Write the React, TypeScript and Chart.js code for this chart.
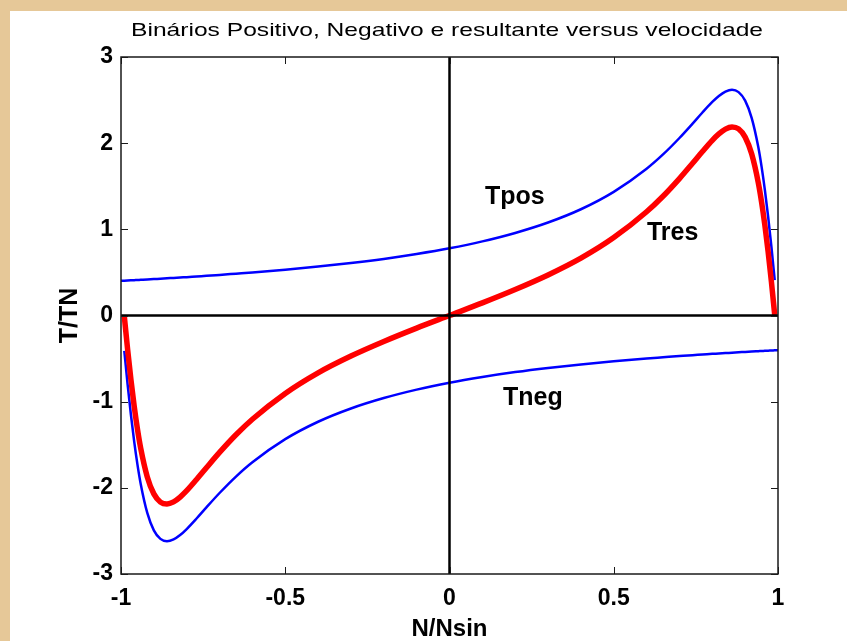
import { useEffect, useRef } from "react";
import { Chart, registerables } from "chart.js";

Chart.register(...registerables);

// ---- data ----
const TITLE = "Binários Positivo, Negativo e resultante versus velocidade";
const X_TITLE = "N/Nsin";
const Y_TITLE = "T/TN";

const N_VALUES = [
  -1, -0.99, -0.98, -0.97, -0.96, -0.95, -0.94, -0.92, -0.9, -0.88, -0.86, -0.84, -0.82, -0.8,
  -0.77, -0.74, -0.7, -0.65, -0.6, -0.5, -0.4, -0.3, -0.2, -0.1, 0, 0.1, 0.2, 0.3, 0.4, 0.5,
  0.6, 0.65, 0.7, 0.74, 0.77, 0.8, 0.82, 0.84, 0.86, 0.88, 0.9, 0.92, 0.94, 0.95, 0.96, 0.97,
  0.98, 0.99, 1,
];

const T_POS = [
  0.402, 0.404, 0.406, 0.408, 0.41, 0.412, 0.414, 0.418, 0.423, 0.427, 0.432, 0.436, 0.441, 0.445,
  0.453, 0.46, 0.471, 0.485, 0.499, 0.531, 0.568, 0.609, 0.657, 0.714, 0.78, 0.86, 0.958, 1.079,
  1.233, 1.435, 1.703, 1.869, 2.06, 2.227, 2.356, 2.478, 2.548, 2.599, 2.62, 2.592, 2.493, 2.291,
  1.955, 1.728, 1.458, 1.146, 0.795, 0.41, null,
];

const T_NEG = [
  null, -0.41, -0.795, -1.146, -1.458, -1.728, -1.955, -2.291, -2.493, -2.592, -2.62, -2.599,
  -2.548, -2.478, -2.356, -2.227, -2.06, -1.869, -1.703, -1.435, -1.233, -1.079, -0.958, -0.86,
  -0.78, -0.714, -0.657, -0.609, -0.568, -0.531, -0.499, -0.485, -0.471, -0.46, -0.453, -0.445,
  -0.441, -0.436, -0.432, -0.427, -0.423, -0.418, -0.414, -0.412, -0.41, -0.408, -0.406, -0.404,
  -0.402,
];

const T_RES = [
  null, -0.006, -0.389, -0.738, -1.048, -1.316, -1.541, -1.873, -2.07, -2.165, -2.188, -2.163,
  -2.107, -2.033, -1.903, -1.767, -1.589, -1.384, -1.204, -0.904, -0.665, -0.47, -0.301, -0.146,
  0, 0.146, 0.301, 0.47, 0.665, 0.904, 1.204, 1.384, 1.589, 1.767, 1.903, 2.033, 2.107, 2.163,
  2.188, 2.165, 2.07, 1.873, 1.541, 1.316, 1.048, 0.738, 0.389, 0.006, null,
];

const ZERO_X_RANGE = [-1, 1];
const ZERO_Y_RANGE = [-3, 3];

const X_MIN = -1;
const X_MAX = 1;
const X_STEP = 0.5;
const Y_MIN = -3;
const Y_MAX = 3;
const Y_STEP = 1;

const LABEL_TEXTS = ["Tpos", "Tres", "Tneg"];
const LABEL_N = [0.108, 0.601, 0.163];
const LABEL_T = [1.29, 0.876, -1.04];

const FONT = '"Liberation Sans", Arial, sans-serif';

const toPoints = (ys: (number | null)[]) => N_VALUES.map((x, i) => ({ x, y: ys[i] }));

const decorPlugin = {
  id: "decor",
  beforeDraw(chart: any) {
    const { ctx, width, height } = chart;
    ctx.save();
    ctx.fillStyle = "#E6C898";
    ctx.fillRect(0, 0, width, height);
    ctx.fillStyle = "#FFFFFF";
    ctx.fillRect(10, 11, width - 10, height - 11);
    ctx.restore();
  },
  afterDraw(chart: any) {
    const { ctx, chartArea } = chart;
    const { left, right, top, bottom } = chartArea;
    const xs = chart.scales.x;
    const ys = chart.scales.y;
    ctx.save();
    // box
    ctx.strokeStyle = "#1a1a1a";
    ctx.lineWidth = 1.5;
    ctx.strokeRect(left, top, right - left, bottom - top);
    // inner ticks
    ctx.lineWidth = 1;
    const tl = 7;
    ctx.beginPath();
    xs.ticks.forEach((t: any) => {
      const px = Math.round(xs.getPixelForValue(t.value)) + 0.5;
      ctx.moveTo(px, bottom);
      ctx.lineTo(px, bottom - tl);
      ctx.moveTo(px, top);
      ctx.lineTo(px, top + tl);
    });
    ys.ticks.forEach((t: any) => {
      const py = Math.round(ys.getPixelForValue(t.value)) + 0.5;
      ctx.moveTo(left, py);
      ctx.lineTo(left + tl, py);
      ctx.moveTo(right, py);
      ctx.lineTo(right - tl, py);
    });
    ctx.stroke();

    // title (stretched to match reference width)
    ctx.fillStyle = "#000";
    ctx.font = `19px ${FONT}`;
    ctx.textAlign = "center";
    ctx.textBaseline = "middle";
    const w = ctx.measureText(TITLE).width;
    const sx = 632 / w;
    ctx.save();
    ctx.translate(447, 31);
    ctx.scale(sx, 1);
    ctx.fillText(TITLE, 0, 0);
    ctx.restore();

    // curve labels
    ctx.font = `bold 25px ${FONT}`;
    ctx.textAlign = "left";
    ctx.textBaseline = "alphabetic";
    LABEL_TEXTS.forEach((txt, i) => {
      ctx.fillText(txt, xs.getPixelForValue(LABEL_N[i]), ys.getPixelForValue(LABEL_T[i]));
    });
    ctx.restore();
  },
};

export default function App() {
  const ref = useRef<HTMLCanvasElement | null>(null);

  useEffect(() => {
    if (!ref.current) return;
    const chart = new Chart(ref.current, {
      type: "line",
      data: {
        datasets: [
          {
            label: "zeroH",
            data: ZERO_X_RANGE.map((x) => ({ x, y: 0 })),
            borderColor: "#000",
            borderWidth: 2.5,
            pointRadius: 0,
            order: 0,
          },
          {
            label: "zeroV",
            data: ZERO_Y_RANGE.map((y) => ({ x: 0, y })),
            borderColor: "#000",
            borderWidth: 2.5,
            pointRadius: 0,
            order: 0,
          },
          {
            label: "Tres",
            data: toPoints(T_RES),
            borderColor: "#FF0000",
            borderWidth: 5.5,
            pointRadius: 0,
            cubicInterpolationMode: "monotone",
            order: 1,
          },
          {
            label: "Tpos",
            data: toPoints(T_POS),
            borderColor: "#0000FF",
            borderWidth: 2.5,
            pointRadius: 0,
            cubicInterpolationMode: "monotone",
            order: 2,
          },
          {
            label: "Tneg",
            data: toPoints(T_NEG),
            borderColor: "#0000FF",
            borderWidth: 2.5,
            pointRadius: 0,
            cubicInterpolationMode: "monotone",
            order: 2,
          },
        ],
      },
      options: {
        animation: false,
        responsive: false,
        events: [],
        layout: { padding: { left: 0, right: 69, top: 57, bottom: 0 } },
        plugins: {
          legend: { display: false },
          title: { display: false },
          tooltip: { enabled: false },
        },
        scales: {
          x: {
            type: "linear",
            min: X_MIN,
            max: X_MAX,
            grid: { display: false, drawTicks: false },
            border: { display: false },
            ticks: {
              stepSize: X_STEP,
              color: "#000",
              padding: 11,
              maxRotation: 0,
              callback: (v: any) => String(Number(v)),
              font: { family: FONT, size: 23, weight: "bold" },
            },
            title: {
              display: true,
              text: X_TITLE,
              color: "#000",
              font: { family: FONT, size: 24, weight: "bold", lineHeight: 1 },
              padding: { top: 0, bottom: 0 },
            },
            afterFit: (s: any) => {
              s.height = 67;
            },
          },
          y: {
            type: "linear",
            min: Y_MIN,
            max: Y_MAX,
            grid: { display: false, drawTicks: false },
            border: { display: false },
            ticks: {
              stepSize: Y_STEP,
              color: "#000",
              padding: 8,
              callback: (v: any) => String(Number(v)),
              font: { family: FONT, size: 23, weight: "bold" },
            },
            title: {
              display: true,
              text: Y_TITLE,
              color: "#000",
              font: { family: FONT, size: 25, weight: "bold", lineHeight: 1.2 },
              padding: { top: 55, bottom: 0 },
            },
            afterFit: (s: any) => {
              s.width = 121;
            },
          },
        },
      },
      plugins: [decorPlugin],
    } as any);
    return () => chart.destroy();
  }, []);

  return (
    <div style={{ position: "fixed", left: 0, top: 0, width: 847, height: 641 }}>
      <canvas ref={ref} width={847} height={641} style={{ display: "block" }} />
    </div>
  );
}
